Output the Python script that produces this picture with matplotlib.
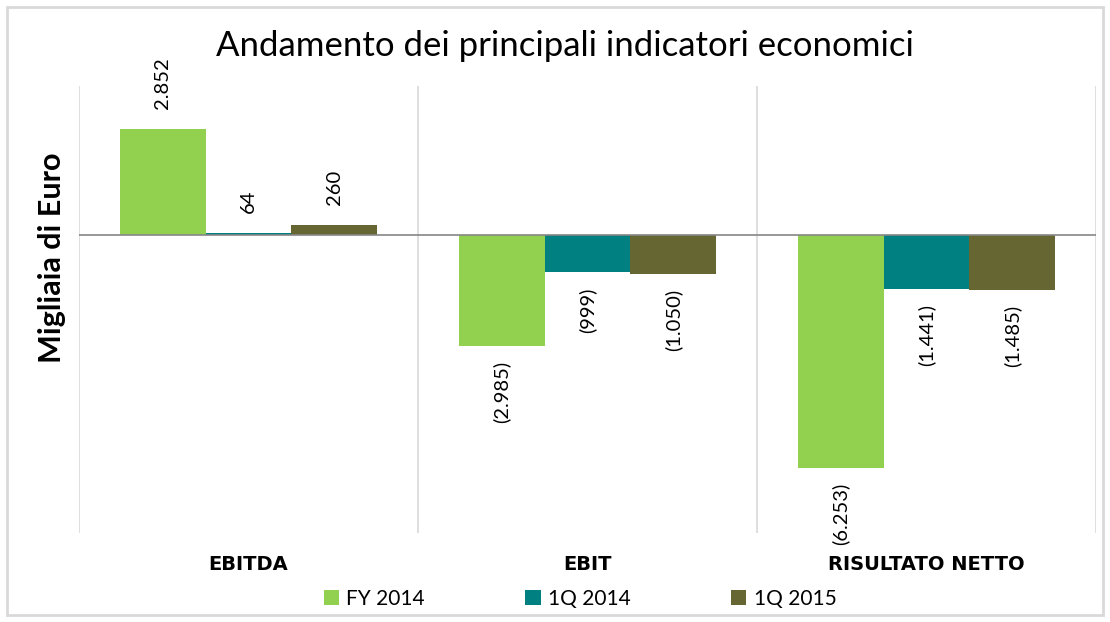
import matplotlib
matplotlib.use("Agg")
import matplotlib.pyplot as plt
from matplotlib.patches import Rectangle
import numpy as np

categories = ["EBITDA", "EBIT", "RISULTATO NETTO"]
series_names = ["FY 2014", "1Q 2014", "1Q 2015"]
fy2014 = [2852, -2985, -6253]
q1_2014 = [64, -999, -1441]
q1_2015 = [260, -1050, -1485]
series_values = [fy2014, q1_2014, q1_2015]
colors = ["#92D050", "#008080", "#666633"]

title = "Andamento dei principali indicatori economici"
ylabel = "Migliaia di Euro"


def fmt(v):
    s = f"{abs(v):,}".replace(",", ".")
    return f"({s})" if v < 0 else s


plt.rcParams['font.family'] = ['Lato', 'DejaVu Sans']

fig = plt.figure(figsize=(11.10, 6.22), dpi=100)
ax = fig.add_axes([79 / 1110, 1 - 533 / 622, (1096 - 79) / 1110, (533 - 86) / 622])

x = np.arange(len(categories))
bw = 0.253
for i, (name, vals, c) in enumerate(zip(series_names, series_values, colors)):
    pos = x + (i - 1) * bw
    ax.bar(pos, vals, width=bw, color=c, label=name, zorder=2)
    for px, v in zip(pos, vals):
        if v >= 0:
            ax.annotate(fmt(v), (px, v), xytext=(0, 20), textcoords="offset pixels",
                        rotation=90, ha="center", va="bottom", fontsize=14.5, color="#000000")
        else:
            ax.annotate(fmt(v), (px, v), xytext=(0, -15), textcoords="offset pixels",
                        rotation=90, ha="center", va="top", fontsize=14.5, color="#000000")

ax.set_xlim(-0.5, 2.5)
ax.set_ylim(-8000, 4000)
for b in [-0.5, 0.5, 1.5, 2.5]:
    ax.axvline(b, color="#D9D9D9", lw=1.2, zorder=0)
ax.axhline(0, color="#868686", lw=1.2, zorder=3)

for s in ax.spines.values():
    s.set_visible(False)
ax.set_yticks([])
ax.set_xticks(x)
ax.set_xticklabels(categories, fontsize=14, fontweight="bold", family="DejaVu Sans")
ax.tick_params(axis="x", length=0, pad=16)

fig.text(52 / 1110, 1 - 258 / 622, ylabel, rotation=90, ha="center", va="center",
         fontsize=22, fontweight="bold")
fig.text(565 / 1110, 1 - 46 / 622, title, ha="center", va="center", fontsize=25,
         fontweight="normal")

fig.legend(loc="center", bbox_to_anchor=(580 / 1110, 1 - 599 / 622), ncol=3,
           frameon=False, fontsize=15, handlelength=0.75, handleheight=0.75,
           columnspacing=4.8, handletextpad=0.35)

fig.patches.append(Rectangle((7 / 1110, 7 / 622), 1096 / 1110, 608 / 622,
                             transform=fig.transFigure, fill=False,
                             edgecolor="#D9D9D9", lw=2))

fig.savefig("out.png", dpi=100)
